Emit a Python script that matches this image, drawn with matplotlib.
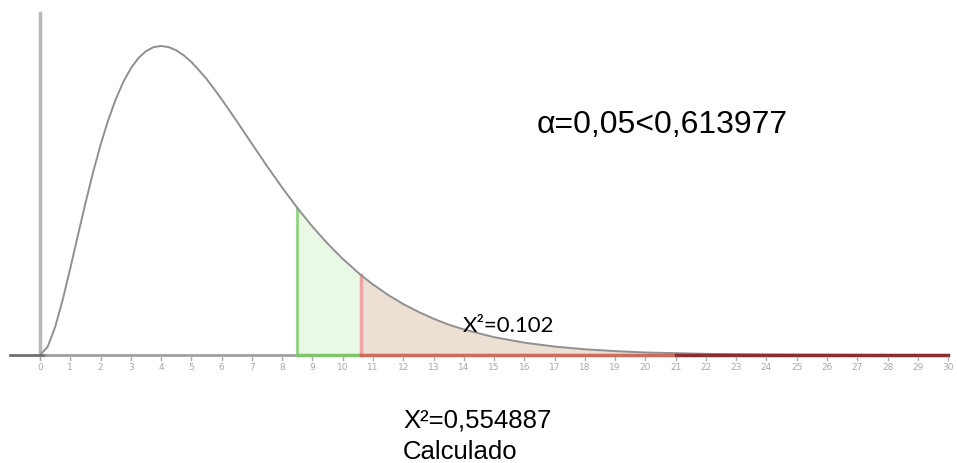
import matplotlib
matplotlib.use("Agg")
import matplotlib.pyplot as plt
import numpy as np

# curve values (density, chi-square like shape)
x_vals = [0, 0.25, 0.5, 0.75, 1, 1.25, 1.5, 1.75, 2, 2.25, 2.5, 2.75, 3, 3.25, 3.5, 3.75, 4,
          4.25, 4.5, 4.75, 5, 5.25, 5.5, 5.75, 6, 6.5, 7, 7.5, 8,
          8.5, 9, 9.5, 10, 10.6, 11, 11.5, 12, 12.5, 13, 13.5, 14, 15, 16, 17, 18, 19, 20,
          22, 24, 26, 28, 30]
y_vals = [0, 0.0035, 0.0122, 0.0242, 0.0379, 0.0523, 0.0664, 0.0798, 0.0920, 0.1027, 0.1119,
          0.1195, 0.1255, 0.1300, 0.1330, 0.1348, 0.1353,
          0.1348, 0.1334, 0.1312, 0.1283, 0.1247, 0.1209, 0.1165, 0.1120, 0.1024, 0.0925,
          0.0827, 0.0733,
          0.0644, 0.0562, 0.0488, 0.0421, 0.0350, 0.0309, 0.0263, 0.0223, 0.0189, 0.0159,
          0.0133, 0.0112, 0.0078, 0.0054, 0.0037, 0.0025, 0.0017, 0.0011,
          0.0005, 0.0002, 0.0001, 0.00004, 0.00002]
green_start = 8.5
red_start = 10.6
x_end = 30
tick_labels = [str(i) for i in range(0, 31)]
alpha_text = "α=0,05<0,613977"
chi_tab_text = "X²=0.102"
chi_calc_text = "X²=0,554887"
calc_text = "Calculado"

x = np.array(x_vals, dtype=float)
y = np.array(y_vals, dtype=float)

fig = plt.figure(figsize=(9.57, 4.64), dpi=100)
ax = fig.add_axes([0, 0, 1, 1])
px_per_unit = 30.27
px_per_dens = 2284.0
ax.set_xlim(-40 / px_per_unit, (957 - 40) / px_per_unit)
ax.set_ylim(-(464 - 356) / px_per_dens, 356 / px_per_dens)
ax.axis("off")

# shaded regions
g = (x >= green_start) & (x <= red_start)
r = x >= red_start
ax.fill_between(x[g], 0, y[g], color="#eaf8e6", lw=0, zorder=1)
ax.fill_between(x[r], 0, y[r], color="#ecdfd4", lw=0, zorder=1)

# vertical lines at boundaries
ax.plot([green_start, green_start], [0, np.interp(green_start, x, y)], color="#92d283", lw=2, zorder=2)
ax.plot([red_start, red_start], [0, np.interp(red_start, x, y)], color="#f0a4a4", lw=2.5, zorder=2)

# curve
ax.plot(x, y, color="#909090", lw=1.4, zorder=3, solid_capstyle="round", solid_joinstyle="round")

# vertical axis
ax.plot([0, 0], [0, (356 - 14) / px_per_dens], color="#b8b8b8", lw=2.5, zorder=2)

# baseline segments
ax.plot([-30 / px_per_unit, 0.2], [0, 0], color="#707070", lw=2, zorder=4)
ax.plot([0.2, green_start], [0, 0], color="#a0a0a0", lw=2, zorder=4)
ax.plot([green_start, red_start], [0, 0], color="#80c46e", lw=2.5, zorder=4)
ax.plot([red_start, 21], [0, 0], color="#cc6c5c", lw=2.5, zorder=4)
ax.plot([21, x_end], [0, 0], color="#8a2e2e", lw=2.5, zorder=4)

# tick marks and labels
tick_y0 = -2 / px_per_dens
tick_y1 = -5 / px_per_dens
for i, lab in enumerate(tick_labels):
    ax.plot([i, i], [tick_y0, tick_y1], color="#aaaaaa", lw=1, zorder=4)
    ax.text(i, -12 / px_per_dens, lab, fontsize=6.5, color="#a8a8a8",
            ha="center", va="center", family="DejaVu Sans")

def py(pix):
    return (356 - pix) / px_per_dens

def px(pix):
    return (pix - 40) / px_per_unit

ax.text(px(537), py(125), alpha_text, fontsize=23, family="Liberation Sans",
        ha="left", va="center", color="black")
ax.text(px(463), py(326), chi_tab_text, fontsize=16, family="Lato",
        ha="left", va="center", color="black")
ax.text(px(403), py(421), chi_calc_text, fontsize=18.5, family="Liberation Sans",
        ha="left", va="center", color="black")
ax.text(px(403), py(452), calc_text, fontsize=18.5, family="Liberation Sans",
        ha="left", va="center", color="black")

fig.savefig("out.png", dpi=100)
